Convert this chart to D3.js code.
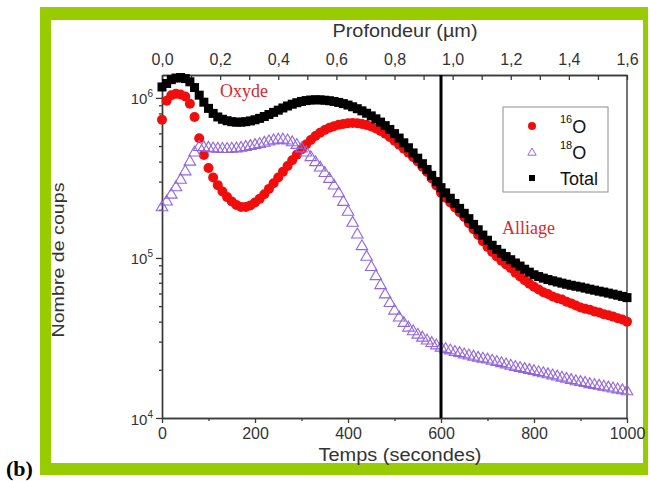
<!DOCTYPE html>
<html><head><meta charset="utf-8">
<script src="https://cdn.jsdelivr.net/npm/d3@7"></script>
<style>body{margin:0;background:#fff}svg{display:block}</style>
</head><body>
<svg id="chart" width="650" height="481"></svg>
<script>
// ---- data ----
const times = [0,10,20,30,40,50,60,70,80,90,100,110,120,130,140,150,160,170,180,190,200,210,220,230,240,250,260,270,280,290,300,310,320,330,340,350,360,370,380,390,400,410,420,430,440,450,460,470,480,490,500,510,520,530,540,550,560,570,580,590,600,610,620,630,640,650,660,670,680,690,700,710,720,730,740,750,760,770,780,790,800,810,820,830,840,850,860,870,880,890,900,910,920,930,940,950,960,970,980,990,1000];
const o16 = [730000,960000,1040000,1060000,1050000,1020000,920000,760000,560000,440000,365000,318000,285000,260000,240000,225000,214000,208000,208000,213000,222000,234000,250000,270000,293000,318000,345000,375000,408000,442000,477000,512000,546000,578000,606000,630000,650000,666000,679000,688000,694000,696000,695000,688000,677000,662000,644000,622000,597000,570000,540000,510000,482000,455000,428000,400000,372000,344000,314000,284000,256000,238000,222000,207000,193000,180000,165000,151000,139000,127000,117000,109000,102000,96000,91000,86500,81000,76500,72500,69000,66000,63500,61000,59500,57500,56000,55000,53200,52000,50500,49000,48200,47500,46300,45600,44500,43800,43000,42000,41200,40000];
const o18 = [210000,228000,252000,280000,312000,352000,405000,462000,500000,498000,494000,490000,488000,486000,486000,488000,490000,494000,500000,507000,514000,522000,531000,541000,550000,556000,556000,549000,535000,515000,490000,462000,432000,402000,372000,344000,316000,287000,257000,227000,197000,168000,142000,120000,103000,89000,78000,68500,60000,53000,47500,43000,39800,37200,35300,33600,32200,30900,29800,28800,27900,27300,26800,26200,25800,25300,24900,24500,24100,23800,23500,23100,22700,22300,21900,21500,21100,20800,20500,20200,19900,19600,19300,19000,18700,18400,18100,17800,17500,17200,17000,16800,16500,16300,16100,15900,15700,15500,15300,15100,14900];
const total = [1170000,1230000,1300000,1330000,1340000,1320000,1260000,1160000,1040000,940000,860000,800000,760000,735000,720000,710000,705000,705000,710000,718000,730000,745000,765000,787000,812000,838000,865000,890000,913000,933000,950000,962000,970000,973000,972000,967000,960000,950000,937000,921000,902000,880000,856000,830000,802000,772000,740000,706000,671000,635000,598000,561000,524000,488000,453000,420000,388000,357000,328000,300000,275000,255000,236000,219000,204000,190000,176000,162000,150000,139000,129000,120000,113000,107000,102000,97500,93000,89000,85000,81500,78500,76500,74800,73300,72000,70800,69600,68500,67500,66600,65800,64800,63800,62900,62000,61200,60300,59400,58500,57500,56500];

const timeTicks = [0,200,400,600,800,1000];
const timeMinorTicks = [100,300,500,700,900];
const depthTicks = [0,0.2,0.4,0.6,0.8,1.0,1.2,1.4,1.6];
const depthMinorTicks = [0.1,0.3,0.5,0.7,0.9,1.1,1.3,1.5];
const yTicks = [1e4,1e5,1e6];
const yMinorTicks = [2e4,3e4,4e4,5e4,6e4,7e4,8e4,9e4,2e5,3e5,4e5,5e5,6e5,7e5,8e5,9e5];
const timeDomain = [0,1000];
const depthDomain = [0,1.6];
const countDomain = [1e4,1.39e6];
const boundaryTime = 600;
const legendLabels = [{sup:"16",main:"O"},{sup:"18",main:"O"},{sup:"",main:"Total"}];

// ---- layout ----
const svg = d3.select("#chart");
const L = 162, R = 627, T = 75, B = 418;
const axisCol = "#3a3a3a";
const redCol = "#f20d0d", purCol = "#9266dc", blkCol = "#000";

// frame
svg.append("rect").attr("x",40).attr("y",7).attr("width",608).attr("height",468).attr("fill","#99cc00");
svg.append("rect").attr("x",51).attr("y",20).attr("width",592).attr("height",443).attr("fill","#fff");
svg.append("text").attr("x",6).attr("y",476).attr("font-family","Liberation Serif, serif")
   .attr("font-weight","bold").attr("font-size",22).attr("fill","#000").text("(b)");

const x = d3.scaleLinear().domain(timeDomain).range([L,R]);
const xd = d3.scaleLinear().domain(depthDomain).range([L,R]);
const y = d3.scaleLog().domain(countDomain).range([B,T]);

const font = "Liberation Sans, Arial, sans-serif";

function styleAxis(g){
  g.selectAll("path.domain").attr("stroke",axisCol).attr("stroke-width",1.4);
  g.selectAll(".tick line").attr("stroke",axisCol).attr("stroke-width",1.3);
  g.selectAll(".tick text").attr("fill","#333").attr("font-family",font).attr("font-size",16);
}

// bottom axis
const gb = svg.append("g").attr("transform",`translate(0,${B})`)
  .call(d3.axisBottom(x).tickValues(timeTicks).tickSize(5).tickSizeOuter(0).tickPadding(5).tickFormat(d3.format("d")));
styleAxis(gb);
const gbm = svg.append("g").attr("transform",`translate(0,${B})`)
  .call(d3.axisBottom(x).tickValues(timeMinorTicks).tickSize(3).tickSizeOuter(0).tickFormat(""));
styleAxis(gbm);

// top axis
const commaFmt = d => d3.format(".1f")(d).replace(".",",");
const gt = svg.append("g").attr("transform",`translate(0,${T})`)
  .call(d3.axisTop(xd).tickValues(depthTicks).tickSize(-5).tickSizeOuter(0).tickPadding(10).tickFormat(commaFmt));
styleAxis(gt);
gt.selectAll(".tick text").attr("y",-10);
const gtm = svg.append("g").attr("transform",`translate(0,${T})`)
  .call(d3.axisTop(xd).tickValues(depthMinorTicks).tickSize(-5).tickSizeOuter(0).tickFormat(""));
styleAxis(gtm);

// left axis
const gl = svg.append("g").attr("transform",`translate(${L},0)`)
  .call(d3.axisLeft(y).tickValues(yTicks).tickSize(6).tickSizeOuter(0).tickPadding(4).tickFormat(""));
styleAxis(gl);
gl.selectAll(".tick").each(function(d){
  const t = d3.select(this).append("text").attr("x",-9).attr("y",6)
     .attr("text-anchor","end").attr("fill","#333").attr("font-family",font).attr("font-size",15);
  t.append("tspan").text("10");
  t.append("tspan").attr("font-size",10).attr("dy",-7).text(Math.round(Math.log10(d)));
});
const glm = svg.append("g").attr("transform",`translate(${L},0)`)
  .call(d3.axisLeft(y).tickValues(yMinorTicks).tickSize(3).tickSizeOuter(0).tickFormat(""));
styleAxis(glm);
// right border
svg.append("line").attr("x1",R).attr("x2",R).attr("y1",T).attr("y2",B).attr("stroke",axisCol).attr("stroke-width",1.4);

// axis titles
svg.append("text").attr("x",405).attr("y",37).attr("text-anchor","middle").attr("font-family",font)
  .attr("font-size",18).attr("fill","#333").attr("textLength",145).attr("lengthAdjust","spacingAndGlyphs").text("Profondeur (µm)");
svg.append("text").attr("x",400).attr("y",461).attr("text-anchor","middle").attr("font-family",font)
  .attr("font-size",18).attr("fill","#333").attr("textLength",163).attr("lengthAdjust","spacingAndGlyphs").text("Temps (secondes)");
svg.append("text").attr("transform","translate(64,260) rotate(-90)").attr("text-anchor","middle").attr("font-family",font)
  .attr("font-size",17).attr("fill","#333").attr("textLength",155).attr("lengthAdjust","spacingAndGlyphs").text("Nombre de coups");

// series
const tri = s => `M0,${-s}L${s*1.05},${s*0.8}L${-s*1.05},${s*0.8}Z`;
const gRed = svg.append("g");
gRed.selectAll("circle").data(times.map((t,i)=>[t,o16[i]])).join("circle")
  .attr("cx",d=>x(d[0])).attr("cy",d=>y(d[1])).attr("r",5).attr("fill",redCol);
const gPur = svg.append("g");
gPur.selectAll("path").data(times.map((t,i)=>[t,o18[i]])).join("path")
  .attr("transform",d=>`translate(${x(d[0])},${y(d[1])})`).attr("d",tri(5.5))
  .attr("fill","none").attr("stroke",purCol).attr("stroke-width",1.1);
const gBlk = svg.append("g");
gBlk.selectAll("rect").data(times.map((t,i)=>[t,total[i]])).join("rect")
  .attr("x",d=>x(d[0])-4.5).attr("y",d=>y(d[1])-4.5).attr("width",9).attr("height",9).attr("fill",blkCol);

// boundary line
svg.append("line").attr("x1",x(boundaryTime)).attr("x2",x(boundaryTime)).attr("y1",T).attr("y2",B)
  .attr("stroke","#000").attr("stroke-width",3);

// annotations
svg.append("text").attr("x",220).attr("y",97).attr("font-family","Liberation Serif, serif").attr("font-size",18)
  .attr("fill","#d42a2a").text("Oxyde");
svg.append("text").attr("x",502).attr("y",234).attr("font-family","Liberation Serif, serif").attr("font-size",18)
  .attr("fill","#d42a2a").text("Alliage");

// legend
const lg = svg.append("g");
lg.append("rect").attr("x",503).attr("y",107).attr("width",105).attr("height",85).attr("fill","#fff")
  .attr("stroke","#a0a0a0").attr("stroke-width",1.2);
const rowY = [126,152,178];
lg.append("circle").attr("cx",532).attr("cy",rowY[0]).attr("r",4).attr("fill",redCol);
lg.append("path").attr("transform",`translate(532,${rowY[1]})`).attr("d",tri(4)).attr("fill","none").attr("stroke",purCol).attr("stroke-width",1);
lg.append("rect").attr("x",529).attr("y",rowY[2]-3).attr("width",6).attr("height",6).attr("fill","#000");
legendLabels.forEach((lab,i)=>{
  const t = lg.append("text").attr("x",560).attr("y",rowY[i]+7).attr("font-family",font).attr("font-size",18).attr("fill","#111");
  if(lab.sup){
    t.append("tspan").attr("font-size",11).attr("dy",-10).text(lab.sup);
    t.append("tspan").attr("dy",10).text(lab.main);
  } else t.append("tspan").text(lab.main);
});
</script>
</body></html>
